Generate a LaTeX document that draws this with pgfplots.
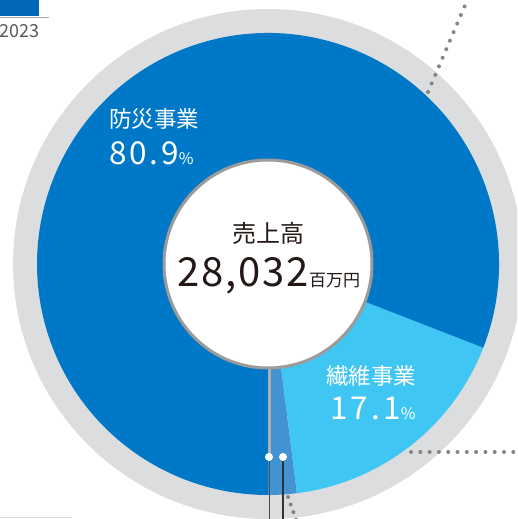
\documentclass[border=0pt]{standalone}
\usepackage{pgfplots}
\usepackage{pgfplotstable}
\pgfplotsset{compat=1.18}
\usepackage{fontspec}
\setmainfont{Noto Sans CJK JP}
\definecolor{dblue}{HTML}{0078C8}
\definecolor{lblue}{HTML}{40C6F3}
\definecolor{mblue}{HTML}{4393D3}
\definecolor{ring}{HTML}{DCDDDE}
\definecolor{rimgray}{HTML}{9B9B9B}
\definecolor{dotgray}{HTML}{858585}
\definecolor{txtdark}{HTML}{231815}
\definecolor{yeargray}{HTML}{595757}
\definecolor{tagblue}{HTML}{0068B7}

\pgfplotstableread{
seg share
other 2.0
fiber 17.1
fire 80.9
}\segtable
\pgfplotstablegetelem{0}{share}\of\segtable \let\sA\pgfplotsretval
\pgfplotstablegetelem{1}{share}\of\segtable \let\sB\pgfplotsretval
\pgfplotstablegetelem{2}{share}\of\segtable \let\sC\pgfplotsretval
\pgfmathsetmacro{\aO}{-90}
\pgfmathsetmacro{\aA}{\aO+3.6*\sA}
\pgfmathsetmacro{\aB}{\aA+3.6*\sB}
\pgfmathsetmacro{\aC}{\aB+3.6*\sC}

\begin{document}
\begin{tikzpicture}
\begin{axis}[at={(0,0)}, anchor=south west, x=1pt, y=1pt,
  xmin=0, xmax=517, ymin=0, ymax=519, hide axis, clip=false]
\path (axis cs:0,0) rectangle (axis cs:517,519);
\begin{scope}
\clip (axis cs:0,0) rectangle (axis cs:517,519);
% outer ring
\fill[ring, overlay] (axis cs:268,255) circle[radius=255pt];
% segments
\fill[mblue, overlay] (axis cs:268,255) -- ++(\aO:231pt) arc[start angle=\aO, end angle=\aA, radius=231pt] -- cycle;
\fill[lblue, overlay] (axis cs:268,255) -- ++(\aA:231pt) arc[start angle=\aA, end angle=\aB, radius=231pt] -- cycle;
\fill[dblue, overlay] (axis cs:268,255) -- ++(\aB:231pt) arc[start angle=\aB, end angle=\aC, radius=231pt] -- cycle;
% leader lines
\draw[overlay, dotgray, line width=4pt, line cap=round, dash pattern=on 0pt off 9.3pt] (axis cs:428,427) -- (axis cs:472,530);
\draw[overlay, dotgray, line width=4pt, line cap=round, dash pattern=on 0pt off 9.3pt] (axis cs:411,67) -- (axis cs:525,67);
\draw[overlay, dotgray, line width=4pt, line cap=round, dash pattern=on 0pt off 8pt] (axis cs:288,22) -- (axis cs:298,-6);
\draw[overlay, color=rimgray!80, line width=3pt] (axis cs:269,150) -- (axis cs:269,62);
\draw[overlay, color=black!70, line width=1.1pt] (axis cs:269.5,62) -- (axis cs:269.5,-5);
\draw[overlay, color=black!80, line width=1.1pt] (axis cs:283,62) -- (axis cs:283,-5);
\fill[overlay, white] (axis cs:269,62) circle[radius=4pt];
\fill[overlay, white] (axis cs:283,62) circle[radius=4pt];
% inner circle
\filldraw[overlay, fill=white, draw=rimgray, line width=3pt] (axis cs:268,255) circle[radius=104pt];
% texts
\node[overlay, anchor=west, inner sep=0pt, text=white, font=\fontsize{22.5}{26}\selectfont] at (axis cs:109,400) {防災事業};
\node[overlay, anchor=base west, inner sep=0pt, text=white] at (axis cs:109,354) {\fontsize{31.5}{36}\selectfont\addfontfeatures{LetterSpace=9}80.9\fontsize{16}{18}\selectfont\%};
\node[overlay, anchor=center, inner sep=0pt, text=txtdark, font=\fontsize{24}{28}\selectfont] at (axis cs:268,286) {売上高};
\node[overlay, anchor=base, inner sep=0pt, text=txtdark] at (axis cs:269,232) {\fontsize{40}{46}\selectfont\addfontfeatures{LetterSpace=4.5}28,032\fontsize{17}{20}\selectfont\addfontfeatures{LetterSpace=0}百万円};
\node[overlay, anchor=west, inner sep=0pt, text=white, font=\fontsize{22.5}{26}\selectfont] at (axis cs:326,143) {繊維事業};
\node[overlay, anchor=base west, inner sep=0pt, text=white] at (axis cs:330,99) {\fontsize{31.5}{36}\selectfont\addfontfeatures{LetterSpace=10}17.1\fontsize{16}{18}\selectfont\%};
% top-left tag
\fill[overlay, tagblue] (axis cs:0,503) rectangle (axis cs:39,519);
\draw[overlay, color=rimgray!90, line width=1pt] (axis cs:0,501.5) -- (axis cs:49,501.5);
\node[overlay, anchor=base west, inner sep=0pt, text=yeargray, font=\fontsize{18}{20}\selectfont] at (axis cs:-1,481) {2023};
\draw[overlay, color=black!15, line width=0.8pt] (axis cs:0,2) -- (axis cs:72,2);
\end{scope}
\end{axis}
\end{tikzpicture}
\end{document}
